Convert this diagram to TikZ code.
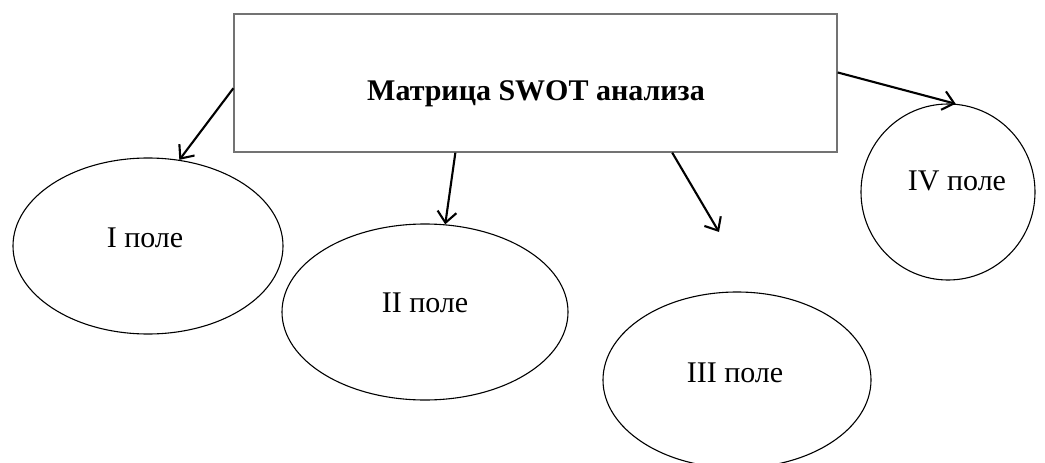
\documentclass[tikz,border=0pt]{standalone}
\usepackage{fontspec}
\setmainfont{Liberation Serif}
\usetikzlibrary{shapes.geometric,arrows.meta}
\begin{document}
\begin{tikzpicture}[x=1pt,y=-1pt,
  mainbox/.style={draw=black!55,line width=1.3pt,rectangle,minimum width=603pt,minimum height=138pt,inner sep=0pt},
  field/.style={draw=black,line width=1.1pt,ellipse,inner sep=0pt},
  fieldtext/.style={anchor=base,inner sep=0pt,font=\fontsize{30}{36}\selectfont},
  titletext/.style={anchor=base,inner sep=0pt,font=\fontsize{30}{36}\selectfont\bfseries},
  link/.style={line width=2.1pt,-{Straight Barb[length=11pt,width=19pt,line width=2.1pt]}}]
\useasboundingbox (0,0) rectangle (1045,463);
\node[mainbox] (box) at (535.5,83) {};
\node[titletext] (title) at (536,100) {Матрица SWOT анализа};
\node[field,minimum width=270pt,minimum height=176pt] (e1) at (148,246) {};
\node[field,minimum width=286pt,minimum height=176pt] (e2) at (425,312) {};
\node[field,minimum width=268pt,minimum height=176pt] (e3) at (737,380) {};
\node[field,minimum width=174pt,minimum height=176pt] (e4) at (948,192) {};
\node[fieldtext] (t1) at (145,247) {I поле};
\node[fieldtext] (t2) at (425,312) {II поле};
\node[fieldtext] (t3) at (735,382) {III поле};
\node[fieldtext] (t4) at (957,190) {IV поле};
\coordinate (free3) at (719,232);
\draw[link] (box.181.1) -- (e1.70);
\draw[link] (box.221) -- (e2.77);
\draw[link] (box.333.5) -- (free3);
\draw[link] (box.2.3) -- (e4.85);
\end{tikzpicture}
\end{document}
